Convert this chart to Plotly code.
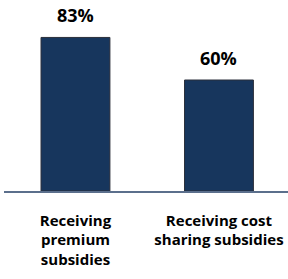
import plotly.graph_objects as go

categories = ["Receiving<br>premium<br>subsidies", "Receiving cost<br>sharing subsidies"]
values = [83, 60]
value_labels = ["83%", "60%"]

fig = go.Figure()
fig.add_trace(go.Bar(
    x=categories, y=values, width=0.48,
    marker=dict(color="#17365d", line=dict(color="#2b2f3a", width=1)),
    hoverinfo="skip",
))
for c, v, t in zip(categories, values, value_labels):
    fig.add_annotation(x=c, y=v, text=t, showarrow=False, yanchor="bottom", yshift=8,
                       font=dict(family="Open Sans", size=18, color="black", weight="bold"))

fig.update_layout(
    width=288, height=279, margin=dict(l=4, r=0, t=6, b=88),
    plot_bgcolor="white", paper_bgcolor="white", showlegend=False,
    xaxis=dict(range=[-0.498, 1.481], showline=True, linecolor="#5b6f8c", linewidth=1.5,
               ticks="outside", ticklen=15, tickcolor="rgba(0,0,0,0)",
               tickfont=dict(family="Open Sans", size=15, color="black", weight="bold")),
    yaxis=dict(range=[0, 100], visible=False, showgrid=False),
)
fig.write_html("out.html", config={"displayModeBar": False},
               post_script="document.body.style.margin='0';document.body.style.overflow='hidden';")
